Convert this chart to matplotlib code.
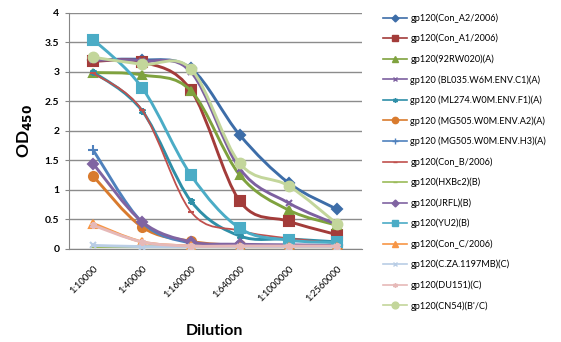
import matplotlib
matplotlib.use('Agg')
import matplotlib.pyplot as plt
from matplotlib.path import Path
from matplotlib.patches import PathPatch
from matplotlib.lines import Line2D

plt.rcParams['font.family'] = ['Lato', 'DejaVu Sans']

# x categories
dilutions = ['1:10000', '1:40000', '1:160000', '1:640000', '1:1000000', '1:2560000']

# series names
names = ['gp120(Con_A2/2006)', 'gp120(Con_A1/2006)', 'gp120(92RW020)(A)',
         'gp120 (BL035.W6M.ENV.C1)(A)', 'gp120 (ML274.W0M.ENV.F1)(A)',
         'gp120 (MG505.W0M.ENV.A2)(A)', 'gp120 (MG505.W0M.ENV.H3)(A)',
         'gp120(Con_B/2006)', 'gp120(HXBc2)(B)', 'gp120(JRFL)(B)', 'gp120(YU2)(B)',
         'gp120(Con_C/2006)', 'gp120(C.ZA.1197MB)(C)', 'gp120(DU151)(C)',
         "gp120(CN54)(B'/C)"]

# OD450 values
con_a2 = [3.20, 3.21, 3.06, 1.93, 1.12, 0.67]
con_a1 = [3.18, 3.17, 2.69, 0.81, 0.47, 0.24]
rw020 = [2.99, 2.95, 2.68, 1.25, 0.66, 0.40]
bl035 = [3.20, 3.19, 3.00, 1.36, 0.78, 0.41]
ml274 = [3.00, 2.34, 0.81, 0.22, 0.17, 0.12]
mg505_a2 = [1.23, 0.37, 0.13, 0.06, 0.05, 0.05]
mg505_h3 = [1.67, 0.45, 0.10, 0.07, 0.06, 0.05]
con_b = [2.98, 2.35, 0.63, 0.31, 0.18, 0.10]
hxbc2 = [0.04, 0.04, 0.04, 0.04, 0.04, 0.04]
jrfl = [1.44, 0.46, 0.12, 0.08, 0.07, 0.06]
yu2 = [3.55, 2.73, 1.25, 0.35, 0.15, 0.11]
con_c = [0.43, 0.12, 0.05, 0.04, 0.04, 0.04]
cza = [0.06, 0.04, 0.04, 0.04, 0.04, 0.04]
du151 = [0.40, 0.12, 0.05, 0.05, 0.05, 0.05]
cn54 = [3.25, 3.13, 3.05, 1.45, 1.07, 0.42]

series = [con_a2, con_a1, rw020, bl035, ml274, mg505_a2, mg505_h3, con_b,
          hxbc2, jrfl, yu2, con_c, cza, du151, cn54]

colors = ['#3D6DA8', '#A33C3A', '#7FA23E', '#7D60A0', '#2F8FA8', '#D97B2E',
          '#4F81BD', '#C0504D', '#9BBB59', '#8064A2', '#4BACC6', '#F79646',
          '#B9CDE5', '#E6B9B8', '#C3D69B']
markers = ['D', 's', '^', 'x', (6, 2, 0), 'o', '+', '_', '_',
           'D', 's', '^', 'x', (6, 2, 0), 'o']
msizes = [5, 6.5, 6, 5, 5, 6.5, 7, 4, 4, 5, 6.5, 6, 5, 5, 7]


def smooth_path(xs, ys):
    # Catmull-Rom style bezier, like Excel's smoothed lines
    pts = list(zip(xs, ys))
    verts = [pts[0]]
    codes = [Path.MOVETO]
    n = len(pts)
    for i in range(n - 1):
        p0 = pts[max(i - 1, 0)]
        p1 = pts[i]
        p2 = pts[i + 1]
        p3 = pts[min(i + 2, n - 1)]
        c1 = (p1[0] + (p2[0] - p0[0]) / 6, p1[1] + (p2[1] - p0[1]) / 6)
        c2 = (p2[0] - (p3[0] - p1[0]) / 6, p2[1] - (p3[1] - p1[1]) / 6)
        verts += [c1, c2, p2]
        codes += [Path.CURVE4] * 3
    return Path(verts, codes)


fig = plt.figure(figsize=(5.61, 3.42), dpi=100)
ax = fig.add_axes([0.123, 0.272, 0.522, 0.69])

x = list(range(len(dilutions)))
handles = []
for i, (vals, c, m, ms) in enumerate(zip(series, colors, markers, msizes)):
    lw = 1.3 if i == 7 else 2.1
    ax.add_patch(PathPatch(smooth_path(x, vals), facecolor='none', edgecolor=c,
                           lw=lw, zorder=2 + i * 0.1, capstyle='round'))
    ax.plot(x, vals, linestyle='none', marker=m, ms=ms, color=c,
            mec=c, mew=1.5, zorder=2.05 + i * 0.1)
    handles.append(Line2D([], [], color=c, lw=1.2, marker=m, ms=ms * 0.7,
                          mew=1.0))

ax.set_xlim(-0.5, 5.5)
ax.set_ylim(0, 4)
ax.set_yticks([0, 0.5, 1, 1.5, 2, 2.5, 3, 3.5, 4])
ax.set_yticklabels(['0', '0.5', '1', '1.5', '2', '2.5', '3', '3.5', '4'],
                   fontsize=7.5, fontweight='bold')
ax.set_xticks(x)
ax.set_xticklabels(dilutions, rotation=45, ha='right', rotation_mode='anchor',
                   fontsize=6.8)
ax.tick_params(axis='x', length=0, pad=11)
ax.tick_params(axis='y', length=3, color='#868686', pad=4)
ax.grid(axis='y', color='#8C8C8C', lw=1.0)
ax.set_axisbelow(True)
for s in ['top', 'right']:
    ax.spines[s].set_visible(False)
ax.spines['left'].set_color('#868686')
ax.spines['bottom'].set_color('#868686')

ax.set_ylabel('OD$_{\\mathbf{450}}$', fontsize=12.5, fontweight='bold', labelpad=8)
fig.text(0.383, 0.02, 'Dilution', ha='center', fontsize=11.5, fontweight='bold')

fig.legend(handles, names, loc='upper left', bbox_to_anchor=(0.668, 0.985),
           frameon=False, fontsize=6.6, handlelength=2.6, handletextpad=0.4,
           labelspacing=1.2)

fig.savefig('out.png', dpi=100)
